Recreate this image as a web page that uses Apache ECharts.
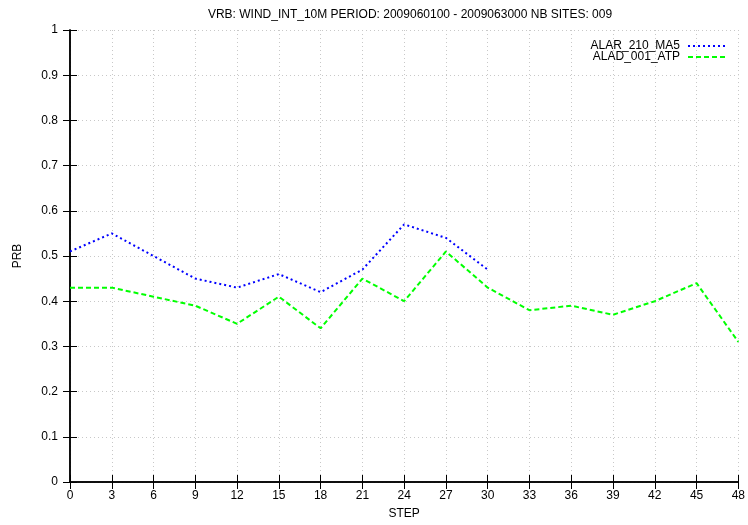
<!DOCTYPE html>
<html>
<head>
<meta charset="utf-8">
<script src="https://cdn.jsdelivr.net/npm/echarts@6/dist/echarts.min.js"></script>
<style>html,body{margin:0;padding:0;background:#fff;}#c{width:748px;height:525px;}</style>
</head>
<body>
<div id="c"></div>
<script>
const steps = [0,3,6,9,12,15,18,21,24,27,30,33,36,39,42,45,48];
const alarValues = [0.51,0.55,0.50,0.45,0.43,0.46,0.42,0.47,0.57,0.54,0.47];
const aladValues = [0.43,0.43,0.41,0.39,0.35,0.41,0.34,0.45,0.40,0.51,0.43,0.38,0.39,0.37,0.40,0.44,0.31];
const seriesNames = ['ALAR_210_MA5','ALAD_001_ATP'];
const titleText = 'VRB: WIND_INT_10M PERIOD: 2009060100 - 2009063000 NB SITES: 009';

const pairs = (vals) => vals.map((v,i) => [steps[i], v]);
const font = 'Liberation Sans, Arial, sans-serif';
const chart = echarts.init(document.getElementById('c'), null, {renderer:'canvas'});
const tickStyle = {show:true, inside:true, length:7, lineStyle:{color:'#000', width:1}};
chart.setOption({
  animation:false,
  backgroundColor:'#fff',
  title:{text:titleText, left:405, textAlign:'center', top:4, textStyle:{fontFamily:font, fontSize:12, fontWeight:'normal', color:'#000'}},
  grid:{left:70, right:8, top:30, bottom:40, show:false},
  legend:{
    orient:'vertical', right:16, top:35, align:'right', itemGap:-1, itemWidth:38, itemHeight:10,
    itemStyle:{opacity:0},
    textStyle:{fontFamily:font, fontSize:12, color:'#000', lineHeight:12, padding:[0,3,0,0]},
    data:seriesNames
  },
  xAxis:[{
    type:'value', min:0, max:48, interval:3,
    name:'STEP', nameLocation:'middle', nameGap:26, nameTextStyle:{fontFamily:font, fontSize:12, color:'#000'},
    axisLine:{show:true, onZero:false, lineStyle:{color:'#000', width:1.5}},
    axisTick:tickStyle,
    axisLabel:{fontFamily:font, fontSize:12, color:'#000', margin:8},
    splitLine:{show:true, lineStyle:{color:'#c8c8c8', type:[1,3], width:1}}
  },{
    type:'value', min:0, max:48, interval:3, position:'top',
    axisLine:{show:true, lineStyle:{color:'#000', width:1.5}},
    axisTick:tickStyle, axisLabel:{show:false}, splitLine:{show:false}
  }],
  yAxis:[{
    type:'value', min:0, max:1, interval:0.1,
    name:'PRB', nameLocation:'middle', nameGap:46, nameRotate:90, nameTextStyle:{fontFamily:font, fontSize:12, color:'#000'},
    axisLine:{show:true, onZero:false, lineStyle:{color:'#000', width:1.5}},
    axisTick:tickStyle,
    axisLabel:{fontFamily:font, fontSize:12, color:'#000', margin:12},
    splitLine:{show:true, lineStyle:{color:'#c8c8c8', type:[1,3], width:1}}
  },{
    type:'value', min:0, max:1, interval:0.1, position:'right',
    axisLine:{show:true, lineStyle:{color:'#000', width:1.5}},
    axisTick:tickStyle, axisLabel:{show:false}, splitLine:{show:false}
  }],
  series:[{
    name:seriesNames[0], type:'line', data:pairs(alarValues), showSymbol:false, symbol:'none',
    lineStyle:{color:'#0000ff', width:2, type:[2,3]}, itemStyle:{color:'#0000ff'}
  },{
    name:seriesNames[1], type:'line', data:pairs(aladValues), showSymbol:false, symbol:'none',
    lineStyle:{color:'#00ff00', width:2, type:[5,3]}, itemStyle:{color:'#00ff00'}
  }]
});
</script>
</body>
</html>
